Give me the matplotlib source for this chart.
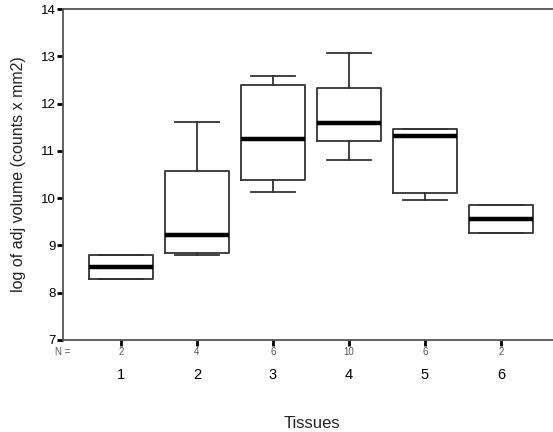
import matplotlib
matplotlib.use("Agg")
import matplotlib.pyplot as plt
from matplotlib.transforms import blended_transform_factory

# datos
tejidos = ["1", "2", "3", "4", "5", "6"]
n_casos = [2, 4, 6, 10, 6, 2]
minimos = [8.29, 8.79, 10.12, 10.81, 9.96, 9.27]
q1 = [8.29, 8.84, 10.38, 11.20, 10.10, 9.27]
medianas = [8.55, 9.21, 11.26, 11.58, 11.31, 9.56]
q3 = [8.79, 10.57, 12.39, 12.32, 11.47, 9.86]
maximos = [8.79, 11.60, 12.58, 13.08, 11.47, 9.86]

plt.rcParams["font.family"] = ["Liberation Sans", "DejaVu Sans"]
gris = "#333333"

fig = plt.figure(figsize=(5.53, 4.32), dpi=100)
ax = fig.add_axes([63 / 553, 1 - 340 / 432, 498 / 553, 331 / 432])

stats = []
for i, t in enumerate(tejidos):
    stats.append({
        "label": t,
        "whislo": minimos[i],
        "q1": q1[i],
        "med": medianas[i],
        "q3": q3[i],
        "whishi": maximos[i],
        "fliers": [],
    })

pos = list(range(1, len(tejidos) + 1))
ax.bxp(stats, positions=pos, widths=0.83, showfliers=False,
       boxprops=dict(color=gris, linewidth=1.3),
       whiskerprops=dict(color=gris, linewidth=1.3),
       capprops=dict(color=gris, linewidth=1.3),
       medianprops=dict(color="black", linewidth=3.2, solid_capstyle="butt"),
       capwidths=0.59)

ax.set_ylim(7, 14)
ax.set_xlim(0.237, 6.79)
ax.set_yticks(range(7, 15))
ax.tick_params(axis="y", length=4, width=2, color="black", labelsize=9.5, pad=1.5)
ax.set_xticks(pos)
ax.set_xticklabels(tejidos)
ax.tick_params(axis="x", length=4, width=2, color="black", labelsize=10.5, pad=16)

for lado in ("left", "top", "bottom"):
    ax.spines[lado].set_color("#555555")
    ax.spines[lado].set_linewidth(1.3)
ax.spines["right"].set_visible(False)

# fila de N
trans = blended_transform_factory(ax.transData, ax.transAxes)
for x, n in zip(pos, n_casos):
    ax.text(x, -0.036, str(n), transform=trans, ha="center", va="center",
            fontsize=7, color="#555555")
ax.text(0.0, -0.036, "N =", transform=ax.transAxes, ha="center", va="center",
        fontsize=7, color="#555555")

ax.set_ylabel("log of adj volume (counts x mm2)", fontsize=11.5, color="#222222")
ax.yaxis.set_label_coords(-0.075, 0.5)
ax.set_xlabel("Tissues", fontsize=12, color="#222222")
ax.xaxis.set_label_coords(0.5, -0.23)

fig.savefig("out.png", dpi=100)
